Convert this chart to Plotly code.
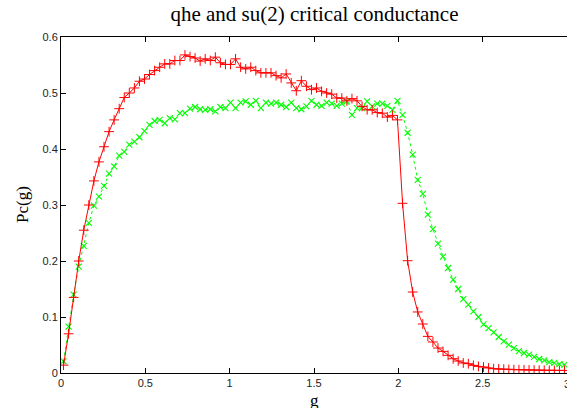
import plotly.graph_objects as go

# sampling points of g
g_values = [
    0.015, 0.045, 0.075, 0.105, 0.135, 0.165, 0.195, 0.225, 0.255, 0.285,
    0.315, 0.345, 0.375, 0.405, 0.435, 0.465, 0.495, 0.525, 0.555, 0.585,
    0.615, 0.645, 0.675, 0.705, 0.735, 0.765, 0.795, 0.825, 0.855, 0.885,
    0.915, 0.945, 0.975, 1.005, 1.035, 1.065, 1.095, 1.125, 1.155, 1.185,
    1.215, 1.245, 1.275, 1.305, 1.335, 1.365, 1.395, 1.425, 1.455, 1.485,
    1.515, 1.545, 1.575, 1.605, 1.635, 1.665, 1.695, 1.725, 1.755, 1.785,
    1.815, 1.845, 1.875, 1.905, 1.935, 1.965, 1.995, 2.025, 2.055, 2.085,
    2.115, 2.145, 2.175, 2.205, 2.235, 2.265, 2.295, 2.325, 2.355, 2.385,
    2.415, 2.445, 2.475, 2.505, 2.535, 2.565, 2.595, 2.625, 2.655, 2.685,
    2.715, 2.745, 2.775, 2.805, 2.835, 2.865, 2.895, 2.925, 2.955, 2.985,
]

# red series (qhe)
qhe_pc = [
    0.014, 0.070, 0.135, 0.200, 0.255, 0.300, 0.343, 0.377, 0.404, 0.431,
    0.452, 0.472, 0.492, 0.500, 0.509, 0.521, 0.525, 0.533, 0.540, 0.546,
    0.552, 0.552, 0.558, 0.558, 0.568, 0.565, 0.5625, 0.557, 0.561, 0.558,
    0.564, 0.554, 0.551, 0.551, 0.561, 0.546, 0.543, 0.546, 0.540, 0.536,
    0.536, 0.536, 0.531, 0.527, 0.534, 0.518, 0.504, 0.522, 0.512, 0.506,
    0.509, 0.503, 0.500, 0.498, 0.491, 0.491, 0.486, 0.490, 0.486, 0.476,
    0.470, 0.470, 0.465, 0.464, 0.457, 0.460, 0.452, 0.303, 0.2005, 0.1446,
    0.109, 0.0875, 0.0654, 0.0554, 0.0446, 0.0386, 0.0315, 0.0255, 0.0214, 0.0179,
    0.0166, 0.0136, 0.0118, 0.0107, 0.009, 0.0077, 0.0072, 0.0068, 0.0064, 0.006,
    0.0058, 0.0056, 0.0054, 0.0052, 0.005, 0.0049, 0.0048, 0.0047, 0.0046, 0.0045,
]

# green series (su(2))
su2_pc = [
    0.021, 0.083, 0.140, 0.190, 0.227, 0.268, 0.299, 0.315, 0.334, 0.356,
    0.369, 0.388, 0.395, 0.408, 0.413, 0.421, 0.432, 0.443, 0.450, 0.452,
    0.446, 0.455, 0.453, 0.464, 0.464, 0.472, 0.475, 0.471, 0.470, 0.471,
    0.467, 0.475, 0.473, 0.483, 0.473, 0.483, 0.485, 0.479, 0.486, 0.473,
    0.483, 0.481, 0.483, 0.479, 0.475, 0.483, 0.473, 0.471, 0.476, 0.486,
    0.479, 0.477, 0.483, 0.481, 0.477, 0.481, 0.485, 0.461, 0.473, 0.473,
    0.485, 0.476, 0.481, 0.481, 0.477, 0.470, 0.486, 0.461, 0.429, 0.390,
    0.345, 0.320, 0.283, 0.257, 0.231, 0.208, 0.1875, 0.1666, 0.150, 0.132,
    0.122, 0.110, 0.100, 0.087, 0.080, 0.0725, 0.0643, 0.0565, 0.0505, 0.0446,
    0.039, 0.0357, 0.0327, 0.0286, 0.025, 0.0225, 0.0196, 0.0179, 0.016, 0.0148,
]

x_ticks = [0, 0.5, 1, 1.5, 2, 2.5, 3]
x_tick_labels = ["0", "0.5", "1", "1.5", "2", "2.5", "3"]
y_ticks = [0, 0.1, 0.2, 0.3, 0.4, 0.5, 0.6]
y_tick_labels = ["0", "0.1", "0.2", "0.3", "0.4", "0.5", "0.6"]

fig = go.Figure()
fig.add_trace(go.Scatter(
    x=g_values, y=su2_pc, mode="lines+markers", name="su(2)",
    line=dict(color="#00ff00", width=1, dash="3px,3px"),
    marker=dict(symbol="x-thin", size=6, color="#00ff00",
                line=dict(color="#00ff00", width=1.1)),
))
fig.add_trace(go.Scatter(
    x=g_values, y=qhe_pc, mode="lines+markers", name="qhe",
    line=dict(color="#ff0000", width=1),
    marker=dict(symbol="cross-thin", size=7, color="#ff0000",
                line=dict(color="#ff0000", width=1)),
))

tickfont = dict(family="Liberation Sans, Arial, sans-serif", size=11, color="#222222")
serif = "Liberation Serif, Times New Roman, serif"

plot_h = 408 - 37 - 35
plot_w = 567 - 61

# the last x tick label sits on the right edge and is partly cut, as in the reference
shown_x_text = x_tick_labels[:-1] + [""]

fig.update_layout(
    width=567, height=408,
    margin=dict(l=61, r=0, t=37, b=35, autoexpand=False),
    paper_bgcolor="white", plot_bgcolor="white",
    showlegend=False,
    title=dict(text="qhe and su(2) critical conductance",
               font=dict(family=serif, size=21, color="black"),
               x=314.5 / 567, xref="container", xanchor="center",
               y=1 - 14 / 408, yref="container", yanchor="middle"),
    xaxis=dict(range=[0, 3], tickvals=x_ticks, ticktext=shown_x_text,
               ticks="inside", ticklen=5, tickwidth=1, tickcolor="black",
               showline=True, linecolor="black", linewidth=1, mirror="ticks",
               showgrid=False, zeroline=False, tickfont=tickfont, automargin=False),
    yaxis=dict(range=[0, 0.6], tickvals=y_ticks, ticktext=y_tick_labels,
               ticks="inside", ticklen=5, tickwidth=1, tickcolor="black",
               showline=True, linecolor="black", linewidth=1,
               showgrid=False, zeroline=False, tickfont=tickfont, automargin=False),
    yaxis2=dict(range=[0, 0.6], tickvals=y_ticks, overlaying="y", side="right",
                ticks="inside", ticklen=5, tickwidth=1, tickcolor="black",
                showticklabels=False, showline=False, showgrid=False, zeroline=False,
                automargin=False),
    annotations=[
        dict(text="g", xref="paper", yref="paper", x=0.5, y=-(400 - 373) / plot_h,
             showarrow=False, font=dict(family=serif, size=17, color="black"),
             xanchor="center", yanchor="middle"),
        dict(text="Pc(g)", xref="paper", yref="paper", x=-(61 - 22) / plot_w, y=0.5,
             textangle=-90,
             showarrow=False, font=dict(family=serif, size=17, color="black"),
             xanchor="center", yanchor="middle"),
        dict(text=x_tick_labels[-1], xref="x", yref="paper", x=x_ticks[-1],
             y=-(384 - 373) / plot_h, showarrow=False, font=tickfont,
             xanchor="center", yanchor="middle"),
    ],
)

fig.write_html("out.html",
               config={"displayModeBar": False},
               post_script="document.body.style.margin='0';document.body.style.overflow='hidden';")
